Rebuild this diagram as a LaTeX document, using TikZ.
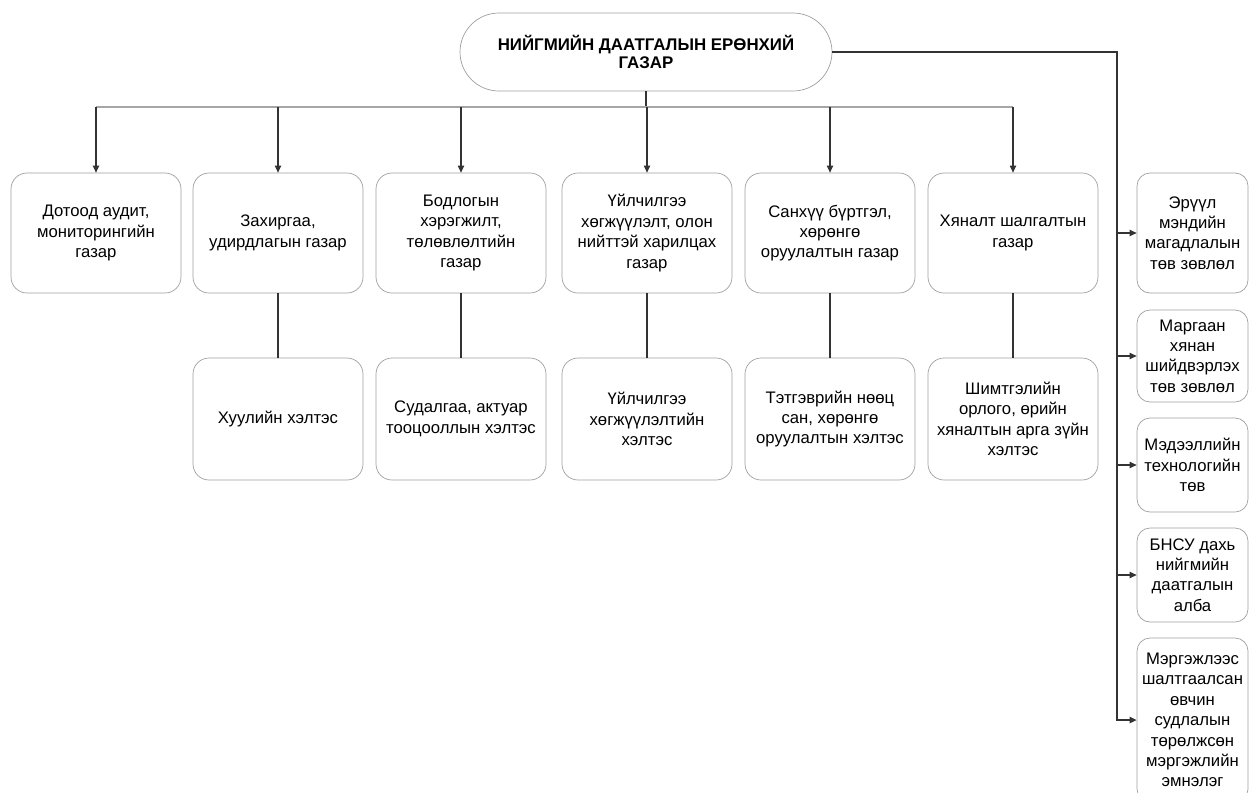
\documentclass[tikz,border=0pt]{standalone}
\usepackage{fontspec}
\setmainfont{Liberation Sans}
\usetikzlibrary{positioning,arrows.meta}

\begin{document}
\begin{tikzpicture}[
    font=\fontsize{9.5}{11.6}\selectfont,
    head/.style={draw=gray!75,rounded corners=0.78cm,minimum width=7.44cm,minimum height=1.56cm,align=center,font=\fontsize{9.6}{10.6}\selectfont\bfseries},
    dept/.style={draw=gray!75,rounded corners=0.32cm,minimum width=3.4cm,minimum height=2.4cm,align=center,inner sep=0pt},
    unit/.style={dept,minimum height=2.44cm},
    side/.style={draw=gray!75,rounded corners=0.26cm,minimum width=2.22cm,align=center,inner sep=0pt},
    line/.style={draw=black!80,line width=0.6pt},
    arrow/.style={line,-{Triangle[length=4pt,width=3.6pt]}}
]
\useasboundingbox (0,0) rectangle (25,-15.84);

% === Head ===
\node[head] (H) at (12.92,-1.04) {НИЙГМИЙН ДААТГАЛЫН ЕРӨНХИЙ\\ГАЗАР};

% === Departments ===
\node[dept] (D1) at (1.92,-4.66)  {Дотоод аудит,\\мониторингийн\\газар};
\node[dept] (D2) at (5.56,-4.66)  {Захиргаа,\\удирдлагын газар};
\node[dept] (D3) at (9.22,-4.66)  {Бодлогын\\хэрэгжилт,\\төлөвлөлтийн\\газар};
\node[dept] (D4) at (12.94,-4.66) {Үйлчилгээ\\хөгжүүлэлт, олон\\нийттэй харилцах\\газар};
\node[dept] (D5) at (16.60,-4.66) {Санхүү бүртгэл,\\хөрөнгө\\оруулалтын газар};
\node[dept] (D6) at (20.26,-4.66) {Хяналт шалгалтын\\газар};

% === Divisions ===
\node[unit] (S2) at (5.56,-8.38)  {Хуулийн хэлтэс};
\node[unit] (S3) at (9.22,-8.38)  {Судалгаа, актуар\\тооцооллын хэлтэс};
\node[unit] (S4) at (12.94,-8.38) {Үйлчилгээ\\хөгжүүлэлтийн\\хэлтэс};
\node[unit] (S5) at (16.60,-8.38) {Тэтгэврийн нөөц\\сан, хөрөнгө\\оруулалтын хэлтэс};
\node[unit] (S6) at (20.26,-8.38) {Шимтгэлийн\\орлого, өрийн\\хяналтын арга зүйн\\хэлтэс};

% === Side units ===
\node[side,minimum height=2.4cm]  (R1) at (23.85,-4.66)  {Эрүүл\\мэндийн\\магадлалын\\төв зөвлөл};
\node[side,minimum height=1.84cm] (R2) at (23.85,-7.12)  {Маргаан\\хянан\\шийдвэрлэх\\төв зөвлөл};
\node[side,minimum height=1.88cm] (R3) at (23.85,-9.30)  {Мэдээллийн\\технологийн\\төв};
\node[side,minimum height=1.88cm] (R4) at (23.85,-11.50) {БНСУ дахь\\нийгмийн\\даатгалын\\алба};
\node[side,minimum height=3.28cm] (R5) at (23.85,-14.40) {Мэргэжлээс\\шалтгаалсан\\өвчин\\судлалын\\төрөлжсөн\\мэргэжлийн\\эмнэлэг};

% === Bus ===
\coordinate (bus) at (12.92,-2.14);
\coordinate (rail) at (22.34,-1.04);

\draw[line] (H.south) -- (bus);
\draw[line,draw=gray!70] (D1.north |- bus) -- (D6.north |- bus);
\foreach \d in {D1,D2,D3,D4,D5,D6}
    \draw[arrow] (\d.north |- bus) -- (\d.north);

\foreach \d in {2,3,4,5,6}
    \draw[line] (D\d.south) -- (S\d.north);

% === Side rail ===
\draw[arrow,line width=0.9pt] (H.east) -- (rail) |- (R5.west);
\foreach \r in {R1,R2,R3,R4}
    \draw[arrow] (rail |- \r.west) -- (\r.west);

\end{tikzpicture}
\end{document}
